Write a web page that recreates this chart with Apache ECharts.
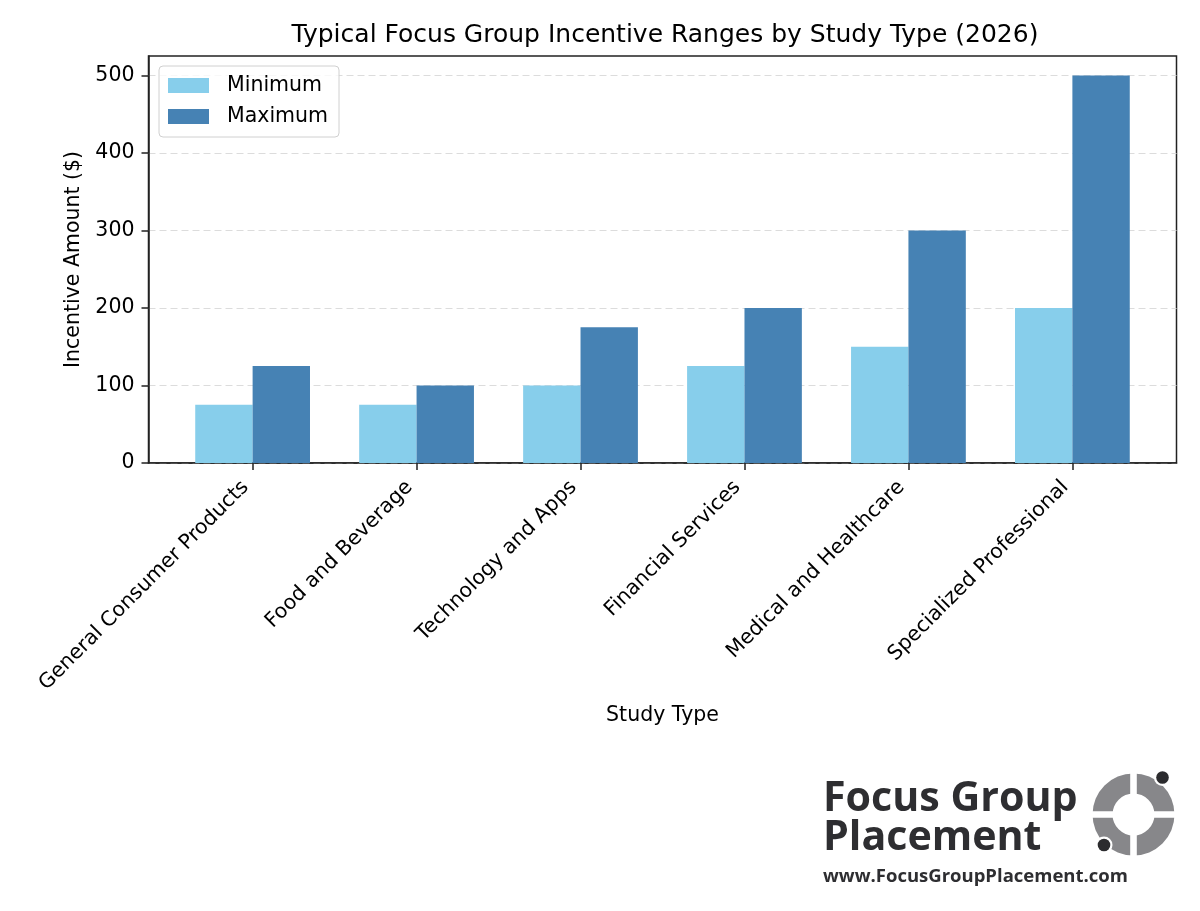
<!DOCTYPE html>
<html>
<head>
<meta charset="utf-8">
<script src="https://cdn.jsdelivr.net/npm/echarts@6/dist/echarts.min.js"></script>
<style>html,body{margin:0;padding:0;background:#fff}#c{width:1200px;height:911px}</style>
</head>
<body>
<div id="c"></div>
<script>
const categories = ['General Consumer Products','Food and Beverage','Technology and Apps','Financial Services','Medical and Healthcare','Specialized Professional'];
const minimumValues = [75, 75, 100, 125, 150, 200];
const maximumValues = [125, 100, 175, 200, 300, 500];
const yTicks = [0, 100, 200, 300, 400, 500];
const titleText = 'Typical Focus Group Incentive Ranges by Study Type (2026)';

const chart = echarts.init(document.getElementById('c'), null, {renderer: 'canvas'});
const FONT = 'DejaVu Sans';
const positions = categories.map((c, i) => i);

const ringCx = 1133.5, ringCy = 814.5;
const SPINE = '#222222';

chart.setOption({
  animation: false,
  backgroundColor: '#ffffff',
  textStyle: {fontFamily: FONT},
  title: {
    text: titleText,
    left: 660, top: 18, textAlign: 'center',
    textStyle: {fontFamily: FONT, fontSize: 25, fontWeight: 'normal', color: '#000'}
  },
  legend: {
    orient: 'vertical', left: 159, top: 66,
    padding: [9, 11, 10, 9],
    itemWidth: 41, itemHeight: 15, itemGap: 10,
    icon: 'rect',
    backgroundColor: 'rgba(255,255,255,0.8)',
    borderColor: '#d0d0d0', borderWidth: 1, borderRadius: 4,
    textStyle: {fontFamily: FONT, fontSize: 20.5, color: '#000', padding: [0, 0, 0, 13]},
    data: ['Minimum', 'Maximum']
  },
  grid: {
    left: 148.5, right: 23.5, top: 56, bottom: 448,
    show: true, borderColor: SPINE, borderWidth: 1.5, backgroundColor: 'transparent'
  },
  xAxis: {
    type: 'value', min: -0.635, max: 5.635,
    name: 'Study Type', nameLocation: 'middle', nameGap: 242,
    nameTextStyle: {fontFamily: FONT, fontSize: 20.5, color: '#000'},
    axisLine: {show: true, onZero: false, lineStyle: {color: SPINE, width: 1.5}},
    splitLine: {show: false},
    axisTick: {show: true, customValues: positions, length: 7, lineStyle: {color: SPINE, width: 1.5}},
    axisLabel: {
      show: true, customValues: positions, rotate: 45, margin: 14,
      padding: [0, 10, 0, 0],
      fontFamily: FONT, fontSize: 20.5, color: '#000',
      formatter: v => categories[Math.round(v)]
    }
  },
  yAxis: {
    type: 'value', min: 0, max: 525, interval: 100,
    name: 'Incentive Amount ($)', nameLocation: 'middle', nameGap: 63,
    nameTextStyle: {fontFamily: FONT, fontSize: 20.5, color: '#000'},
    axisLine: {show: true, onZero: false, lineStyle: {color: SPINE, width: 1.5}},
    axisTick: {show: true, length: 7, lineStyle: {color: SPINE, width: 1.5}, customValues: yTicks},
    axisLabel: {fontFamily: FONT, fontSize: 20.5, color: '#000', margin: 14, customValues: yTicks},
    splitLine: {show: true, lineStyle: {color: '#dcdcdc', type: [7, 4], width: 1}}
  },
  series: [
    {
      name: 'Minimum', type: 'bar',
      data: positions.map((p, i) => [p, minimumValues[i]]),
      barWidth: '35%', barGap: '0%',
      itemStyle: {color: '#87CEEB'}
    },
    {
      name: 'Maximum', type: 'bar',
      data: positions.map((p, i) => [p, maximumValues[i]]),
      barWidth: '35%', barGap: '0%',
      itemStyle: {color: '#4682B4'}
    }
  ],
  graphic: [
    {type: 'text', x: 823, y: 778, scaleX: 0.98, style: {text: 'Focus Group', font: 'bold 42px "Open Sans"', fill: '#2e2e31', textVerticalAlign: 'top'}},
    {type: 'text', x: 823, y: 817, scaleX: 0.98, style: {text: 'Placement', font: 'bold 42px "Open Sans"', fill: '#2e2e31', textVerticalAlign: 'top'}},
    {type: 'text', x: 823, y: 867, style: {text: 'www.FocusGroupPlacement.com', font: 'bold 18.5px "Open Sans"', fill: '#2e2e31', textVerticalAlign: 'top'}},
    {type: 'ring', shape: {cx: ringCx, cy: ringCy, r: 41, r0: 21}, style: {fill: '#87878a'}},
    {type: 'rect', shape: {x: ringCx - 3.3, y: ringCy - 45, width: 6.6, height: 90}, style: {fill: '#fff'}},
    {type: 'rect', shape: {x: ringCx - 45, y: ringCy - 3.3, width: 90, height: 6.6}, style: {fill: '#fff'}},
    {type: 'circle', shape: {cx: 1162.5, cy: 777.5, r: 8.5}, style: {fill: '#fff'}},
    {type: 'circle', shape: {cx: 1162.5, cy: 777.5, r: 6.3}, style: {fill: '#2b2b2e'}},
    {type: 'circle', shape: {cx: 1104, cy: 845, r: 8.5}, style: {fill: '#fff'}},
    {type: 'circle', shape: {cx: 1104, cy: 845, r: 6.3}, style: {fill: '#2b2b2e'}}
  ]
});
</script>
</body>
</html>
